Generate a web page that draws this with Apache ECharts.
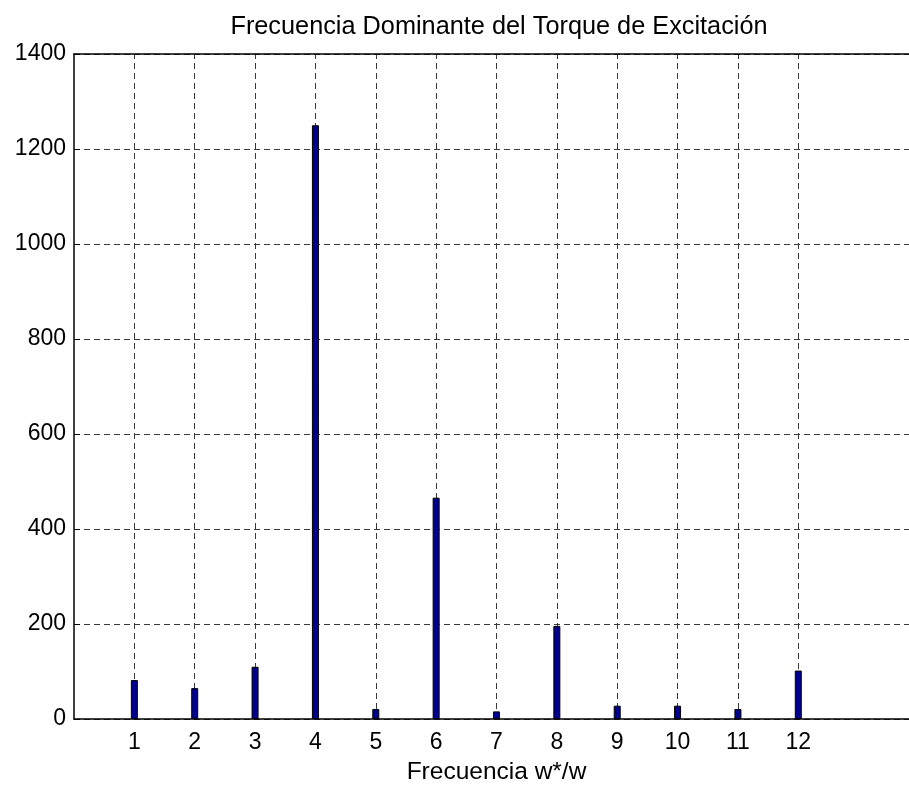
<!DOCTYPE html>
<html><head><meta charset="utf-8">
<script src="https://cdn.jsdelivr.net/npm/echarts@6/dist/echarts.min.js"></script>
<style>html,body{margin:0;padding:0;background:#fff}#c{width:909px;height:785px}</style>
</head><body><div id="c"></div>
<script>
const freqs = [1,2,3,4,5,6,7,8,9,10,11,12];
const values = [82,65,110,1250,21,466,16,196,28,28,21,102];
const yTicks = [0,200,400,600,800,1000,1200,1400];
const titleText = 'Frecuencia Dominante del Torque de Excitación';
const xName = 'Frecuencia w*/w';

const font = 'Liberation Sans, Arial, Helvetica, sans-serif';
const gridDash = {color:'#3a3a3a', type:[6,4], width:1};
const chart = echarts.init(document.getElementById('c'), null, {renderer:'canvas'});
chart.setOption({
  animation:false,
  backgroundColor:'#fff',
  title:{text:titleText, left:494, top:10, textAlign:'center',
    textStyle:{fontFamily:font, fontSize:25.3, fontWeight:'normal', color:'#000'}},
  grid:{left:74, top:54, width:845, bottom:66, containLabel:false, outerBoundsMode:'none'},
  xAxis:[{
    type:'value', min:0, max:14, interval:1,
    axisLine:{show:true, onZero:false, lineStyle:{color:'#000', width:1.5}},
    axisTick:{show:true, inside:true, length:6, customValues:freqs, lineStyle:{color:'#000'}},
    axisLabel:{customValues:freqs, margin:12, fontFamily:font, fontSize:23, color:'#000'},
    splitLine:{show:false},
    name:xName, nameLocation:'middle', nameGap:41,
    nameTextStyle:{fontFamily:font, fontSize:24.5, color:'#000'}
  },{
    type:'value', position:'top', min:0, max:14,
    axisLine:{show:true, onZero:false, lineStyle:{color:'#000', width:1.5}},
    axisTick:{show:false}, axisLabel:{show:false}, splitLine:{show:false}
  }],
  yAxis:{
    type:'value', min:0, max:1400, interval:200,
    axisLine:{show:true, lineStyle:{color:'#000', width:1.5}},
    axisTick:{show:true, inside:true, length:6, lineStyle:{color:'#000'}},
    axisLabel:{margin:8, fontFamily:font, fontSize:23, color:'#000',
      customValues:yTicks, formatter:v=>String(v)},
    splitLine:{show:true, lineStyle:gridDash}
  },
  series:[{
    type:'bar', xAxisIndex:0, barWidth:7,
    data:freqs.map((f,i)=>[f, values[i]]),
    itemStyle:{color:'#00008C', borderColor:'#000', borderWidth:1},
    markLine:{silent:true, symbol:'none', label:{show:false},
      lineStyle:gridDash, z:0,
      data:freqs.map(f=>({xAxis:f}))},
    z:3
  }]
});
</script></body></html>
